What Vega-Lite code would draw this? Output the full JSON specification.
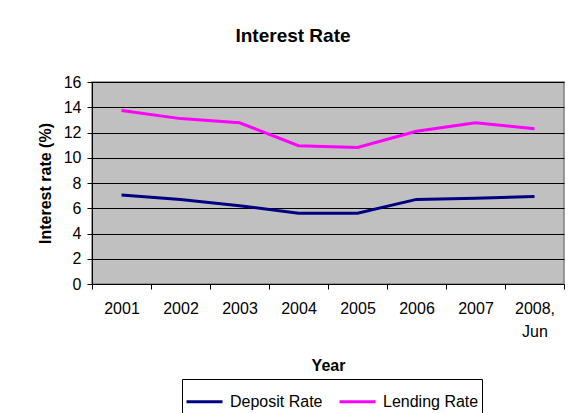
{
  "$schema": "https://vega.github.io/schema/vega-lite/v6.json",
  "width": 472,
  "height": 202,
  "autosize": {"type": "none"},
  "padding": {"left": 92, "top": 82, "right": 9, "bottom": 129},
  "background": "white",
  "title": {"text": "Interest Rate", "font": "Liberation Sans", "fontSize": 19, "fontWeight": "bold", "color": "black", "anchor": "middle", "frame": "group", "dx": -35, "offset": 28},
  "data": {"values": [
    {"Year": "2001", "Series": "Deposit Rate", "Rate": 7.05},
    {"Year": "2002", "Series": "Deposit Rate", "Rate": 6.7},
    {"Year": "2003", "Series": "Deposit Rate", "Rate": 6.2},
    {"Year": "2004", "Series": "Deposit Rate", "Rate": 5.6},
    {"Year": "2005", "Series": "Deposit Rate", "Rate": 5.6},
    {"Year": "2006", "Series": "Deposit Rate", "Rate": 6.7},
    {"Year": "2007", "Series": "Deposit Rate", "Rate": 6.8},
    {"Year": "2008, Jun", "Series": "Deposit Rate", "Rate": 6.93},
    {"Year": "2001", "Series": "Lending Rate", "Rate": 13.75},
    {"Year": "2002", "Series": "Lending Rate", "Rate": 13.1},
    {"Year": "2003", "Series": "Lending Rate", "Rate": 12.77},
    {"Year": "2004", "Series": "Lending Rate", "Rate": 10.95},
    {"Year": "2005", "Series": "Lending Rate", "Rate": 10.82},
    {"Year": "2006", "Series": "Lending Rate", "Rate": 12.1},
    {"Year": "2007", "Series": "Lending Rate", "Rate": 12.77},
    {"Year": "2008, Jun", "Series": "Lending Rate", "Rate": 12.3}
  ]},
  "mark": {"type": "line", "strokeWidth": 3},
  "encoding": {
    "x": {
      "field": "Year", "type": "ordinal", "bandPosition": 0.5,
      "scale": {"type": "band", "paddingInner": 0, "paddingOuter": 0},
      "axis": {
        "title": "Year", "titleFont": "Liberation Sans", "titleFontSize": 16, "titleFontWeight": "bold", "titleColor": "black", "titlePadding": 18,
        "labelAngle": 0, "labelFont": "Liberation Sans", "labelFontSize": 16, "labelColor": "black", "labelPadding": 11, "labelLineHeight": 23,
        "labelExpr": "datum.value == '2008, Jun' ? ['2008,', ' Jun'] : datum.value",
        "tickBand": "extent", "tickColor": "black", "tickSize": 5, "domainColor": "black", "grid": false
      }
    },
    "y": {
      "field": "Rate", "type": "quantitative",
      "scale": {"domain": [0, 16], "nice": false},
      "axis": {
        "title": "Interest rate (%)", "titleFont": "Liberation Sans", "titleFontSize": 16, "titleFontWeight": "bold", "titleColor": "black", "titlePadding": 10,
        "values": [0, 2, 4, 6, 8, 10, 12, 14, 16],
        "labelFont": "Liberation Sans", "labelFontSize": 16, "labelColor": "black", "labelPadding": 6,
        "tickColor": "black", "tickSize": 5, "domainColor": "black",
        "grid": true, "gridColor": "black", "gridWidth": 1, "gridOpacity": 1
      }
    },
    "color": {
      "field": "Series", "type": "nominal",
      "scale": {"domain": ["Deposit Rate", "Lending Rate"], "range": ["#000080", "#FF00FF"]},
      "legend": {
        "title": null, "orient": "none", "legendX": 90, "legendY": 297, "direction": "horizontal",
        "symbolType": "stroke", "symbolSize": 1296, "symbolStrokeWidth": 3,
        "labelFont": "Liberation Sans", "labelFontSize": 16, "labelColor": "black", "labelOffset": 6,
        "strokeColor": "black", "padding": 3, "columnPadding": 10, "symbolOffset": 0
      }
    }
  },
  "config": {
    "view": {"fill": "#C0C0C0", "stroke": "#808080", "strokeWidth": 1.5}
  }
}
